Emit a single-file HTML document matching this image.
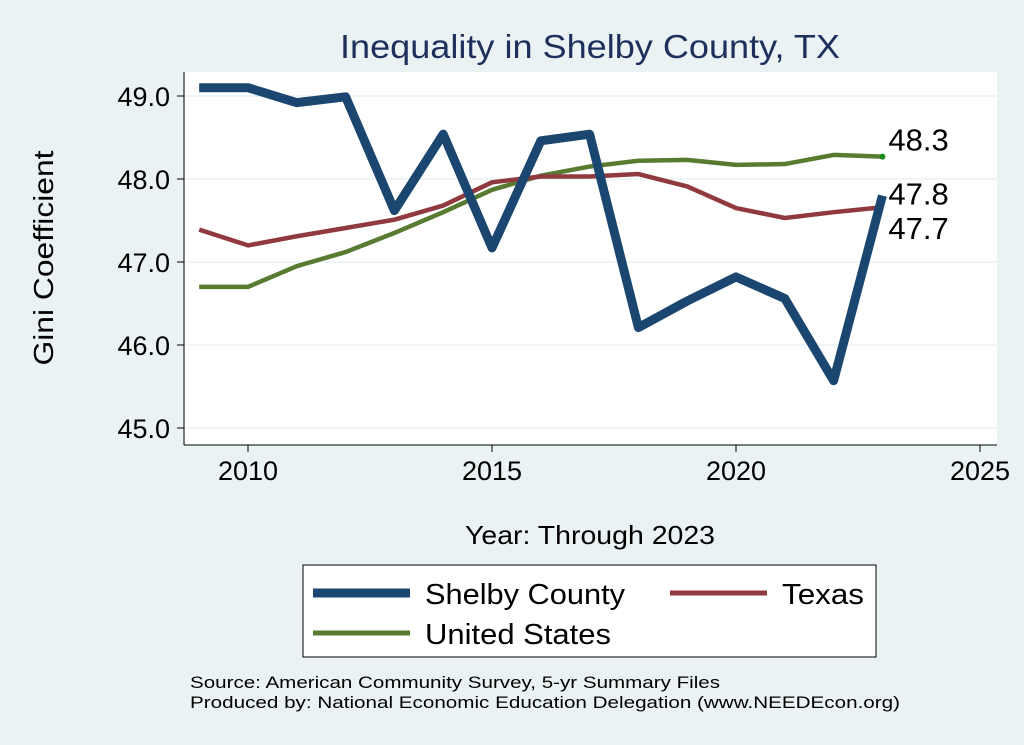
<!DOCTYPE html>
<html><head><meta charset="utf-8"><style>
body{margin:0;background:#eaf2f3;font-family:"Liberation Sans",sans-serif}
svg{display:block}
</style></head><body>
<svg id="chart" width="1024" height="745">
<rect x="0" y="0" width="1024" height="745" fill="#eaf2f3"/>
<rect x="185" y="72" width="812" height="373" fill="#ffffff"/>
<text x="590" y="58" font-size="33" fill="#1f2f5c" text-anchor="middle" textLength="500" lengthAdjust="spacingAndGlyphs">Inequality in Shelby County, TX</text>
<text transform="translate(53,258) rotate(-90)" font-size="28" text-anchor="middle" textLength="215" lengthAdjust="spacingAndGlyphs" fill="#000">Gini Coefficient</text>
<text x="590" y="544" font-size="26" text-anchor="middle" textLength="250" lengthAdjust="spacingAndGlyphs" fill="#000">Year: Through 2023</text>
<g id="grid"></g><g id="axes"></g><g id="series"></g>
<rect x="303" y="565" width="573" height="92" fill="#fff" stroke="#000" stroke-width="1"/>
<g><line x1="313" y1="593" x2="410" y2="593" stroke="#1a4670" stroke-width="9"/><text x="425" y="604" font-size="29" textLength="200" lengthAdjust="spacingAndGlyphs">Shelby County</text></g>
<g><line x1="670" y1="593" x2="767" y2="593" stroke="#903a3f" stroke-width="5"/><text x="782" y="604" font-size="29" textLength="82" lengthAdjust="spacingAndGlyphs">Texas</text></g>
<g><line x1="313" y1="633" x2="410" y2="633" stroke="#587a31" stroke-width="5"/><text x="425" y="644" font-size="29" textLength="186" lengthAdjust="spacingAndGlyphs">United States</text></g>
<text x="190" y="688" font-size="17" textLength="530" lengthAdjust="spacingAndGlyphs">Source: American Community Survey, 5-yr Summary Files</text>
<text x="190" y="708" font-size="17" textLength="710" lengthAdjust="spacingAndGlyphs">Produced by: National Economic Education Delegation (www.NEEDEcon.org)</text>
</svg>
<script>
const years=[2009,2010,2011,2012,2013,2014,2015,2016,2017,2018,2019,2020,2021,2022,2023];
const shelby=[49.1,49.1,48.92,48.99,47.62,48.54,47.17,48.46,48.54,46.21,46.53,46.82,46.56,45.57,47.8];
const texas=[47.39,47.2,47.31,47.41,47.51,47.68,47.96,48.03,48.03,48.06,47.91,47.65,47.53,47.6,47.66];
const us=[46.7,46.7,46.95,47.12,47.35,47.6,47.87,48.04,48.15,48.22,48.23,48.17,48.18,48.29,48.27];
const yTicks=[45,46,47,48,49];
const xTicks=[2010,2015,2020,2025];
const NS='http://www.w3.org/2000/svg';
const X=v=>248+(v-2010)*48.8;
const Y=v=>428-(v-45)*83;
function mk(t,a,p){const e=document.createElementNS(NS,t);for(const k in a)e.setAttribute(k,a[k]);p.appendChild(e);return e;}
const grid=document.getElementById('grid'),axes=document.getElementById('axes'),ser=document.getElementById('series');
mk('line',{x1:184,y1:72,x2:184,y2:445,stroke:'#000','stroke-width':1},axes);
mk('line',{x1:184,y1:445,x2:997,y2:445,stroke:'#000','stroke-width':1},axes);
yTicks.forEach(t=>{
 const g=mk('line',{x1:185,y1:Y(t),x2:997,y2:Y(t),stroke:'#eaf2f3','stroke-width':1.5},grid);
 
 
 mk('line',{x1:177,y1:Y(t),x2:184,y2:Y(t),stroke:'#000'},axes);
 const tx=mk('text',{x:170,y:Y(t)+10,'font-size':27,'text-anchor':'end'},axes);tx.textContent=t.toFixed(1);
 
 
});
xTicks.forEach(t=>{
 mk('line',{x1:X(t),y1:445,x2:X(t),y2:452,stroke:'#000'},axes);
 const tx=mk('text',{x:X(t),y:480,'font-size':27,'text-anchor':'middle'},axes);tx.textContent=t;
 
 
});
function line(vals,col,w,name){
 const p=mk('polyline',{points:vals.map((v,i)=>X(years[i])+','+Y(v)).join(' '),fill:'none',stroke:col,'stroke-width':w,'stroke-linejoin':'round'},ser);
 
 
}
line(us,'#587a31',4.5,'us-line');
line(texas,'#903a3f',4.5,'texas-line');
line(shelby,'#1a4670',9,'shelby-line');
const n=years.length-1;
mk('circle',{cx:X(years[n]),cy:Y(us[n]),r:3,fill:'#1a8a1a'},ser);
function lab(v,dy,name){const t=mk('text',{x:X(years[n])+6,y:Y(v)+dy,'font-size':31},ser);t.textContent=v.toFixed(1);
 
 }
lab(us[n],-6,'us-end-label');
lab(shelby[n],9,'shelby-end-label');
lab(texas[n],32,'texas-end-label');
</script>
</body></html>
